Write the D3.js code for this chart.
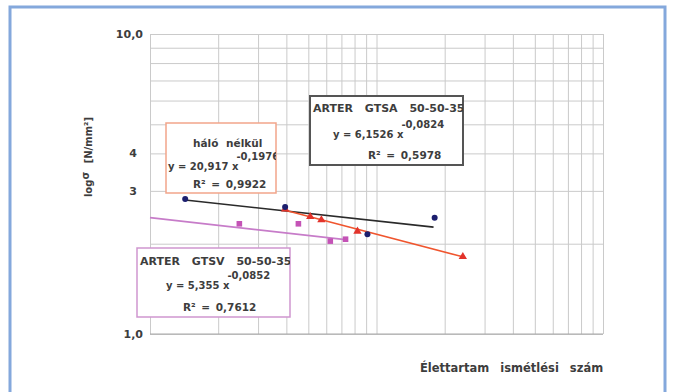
<!DOCTYPE html>
<html>
<head>
<meta charset="utf-8">
<script src="https://cdn.jsdelivr.net/npm/d3@7"></script>
<style>
  body { margin: 0; background: #fff; }
  text { font-family: "DejaVu Sans", sans-serif; fill: #3d3d3d; }
</style>
</head>
<body>
<script>
// series (x = cycles, y = stress)
const gtsaX = [14300, 39500, 91200, 180600];
const gtsaY = [2.82, 2.65, 2.15, 2.44];
const haloX = [39500, 51000, 57100, 82400, 240500];
const haloY = [2.61, 2.46, 2.40, 2.20, 1.81];
const gtsvX = [24800, 45200, 62500, 73000];
const gtsvY = [2.33, 2.33, 2.04, 2.07];

// power trendlines y = a * x^b, as printed in the boxes
const trendNames = ["gtsa", "halo", "gtsv"];
const trendA = [6.1526, 20.917, 5.355];
const trendB = [-0.0824, -0.1976, -0.0852];
const trendFrom = [14300, 39500, 10000];
const trendTo = [178600, 240500, 74500];

const yTickValues = [1, 3, 4, 10];
const yTickLabels = ["1,0", "3", "4", "10,0"];

var width = 673, height = 392;
var plotLeft = 150, plotRight = 603, plotTop = 34, plotBottom = 334;

var svg = d3.select("body").append("svg")
    .attr("width", width)
    .attr("height", height);

// outer blue frame
svg.append("rect")
    .attr("x", 10).attr("y", 7)
    .attr("width", 655).attr("height", 390)
    .attr("fill", "none")
    .attr("stroke", "#84a8dc")
    .attr("stroke-width", 3);

var x = d3.scaleLog().domain([1e4, 1e6]).range([plotLeft, plotRight]);
var y = d3.scaleLog().domain([1, 10]).range([plotBottom, plotTop]);

//grid
svg.append("g")
    .attr("transform", "translate(0," + plotBottom + ")")
    .call(d3.axisBottom(x).tickSize(-(plotBottom - plotTop)).tickFormat(""))
    .call(g => g.select(".domain").remove())
    .call(g => g.selectAll("line").attr("stroke", "#cacaca"));

svg.append("g")
    .attr("transform", "translate(" + plotLeft + ",0)")
    .call(d3.axisLeft(y).tickSize(-(plotRight - plotLeft)).tickFormat(""))
    .call(g => g.select(".domain").remove())
    .call(g => g.selectAll("line").attr("stroke", "#cacaca"));

// bottom axis line a bit darker
svg.append("line")
    .attr("x1", plotLeft).attr("x2", plotRight)
    .attr("y1", plotBottom).attr("y2", plotBottom)
    .attr("stroke", "#a8a8a8");

//y tick labels
svg.append("g")
    .attr("transform", "translate(" + (plotLeft - 4) + ",0)")
    .call(d3.axisLeft(y).tickValues(yTickValues).tickSize(0)
        .tickFormat((d, i) => yTickLabels[i]))
    .call(g => g.select(".domain").remove())
    .call(g => g.selectAll("text")
        .style("font-size", "11px")
        .style("font-weight", "bold")
        .style("font-family", "'DejaVu Sans', sans-serif")
        .attr("fill", "#444")
        .attr("dx", (d) => (d == 3 || d == 4) ? -6 : 0));

// trendlines
var trendColor = {gtsa: "#2a2a2a", halo: "#f0552e", gtsv: "#c77cc9"};
trendNames.forEach(function (name, i) {
    var pts = [trendFrom[i], trendTo[i]].map(v => [v, trendA[i] * Math.pow(v, trendB[i])]);
    svg.append("line")
        .attr("x1", x(pts[0][0])).attr("y1", y(pts[0][1]))
        .attr("x2", x(pts[1][0])).attr("y2", y(pts[1][1]))
        .attr("stroke", trendColor[name])
        .attr("stroke-width", 1.6);
});

// markers
var gtsv = gtsvX.map((v, i) => [v, gtsvY[i]]);
var halo = haloX.map((v, i) => [v, haloY[i]]);
var gtsa = gtsaX.map((v, i) => [v, gtsaY[i]]);

svg.append("g").selectAll("rect")
    .data(gtsv)
    .enter().append("rect")
    .attr("x", d => x(d[0]) - 2.8)
    .attr("y", d => y(d[1]) - 2.8)
    .attr("width", 5.6).attr("height", 5.6)
    .attr("fill", "#c453b6");

svg.append("g").selectAll("path")
    .data(halo)
    .enter().append("path")
    .attr("transform", d => "translate(" + x(d[0]) + "," + y(d[1]) + ")")
    .attr("d", d3.symbol().type(d3.symbolTriangle).size(30))
    .attr("fill", "#e2332b");

svg.append("g").selectAll("circle")
    .data(gtsa)
    .enter().append("circle")
    .attr("cx", d => x(d[0]))
    .attr("cy", d => y(d[1]))
    .attr("r", 3)
    .attr("fill", "#1c1f6e");

// equation boxes
function addBox(id, bx, by, bw, bh, stroke, sw, lines) {
    svg.append("clipPath").attr("id", id)
        .append("rect").attr("x", bx).attr("y", by).attr("width", bw).attr("height", bh);
    svg.append("rect")
        .attr("x", bx).attr("y", by).attr("width", bw).attr("height", bh)
        .attr("fill", "#fff")
        .attr("stroke", stroke)
        .attr("stroke-width", sw);
    var g = svg.append("g").attr("clip-path", "url(#" + id + ")");
    lines.forEach(function (l) {
        var t = g.append("text")
            .attr("x", l.x).attr("y", l.y)
            .style("font-size", (l.size || 10) + "px")
            .style("font-weight", "bold")
            .style("word-spacing", (l.ws || 0) + "px")
            .text(l.text);
        if (l.sup) {
            t.append("tspan")
                .attr("dx", -2).attr("dy", -10)
                .style("font-size", "10px")
                .style("word-spacing", "0px")
                .text(l.sup);
        }
    });
}

addBox("boxHalo", 166, 123, 110, 70, "#f2a58a", 1.5, [
    {x: 193, y: 147, text: "háló nélkül", size: 10.5, ws: 4},
    {x: 168, y: 170, text: "y = 20,917 x", sup: "-0,1976"},
    {x: 193, y: 188, text: "R² = 0,9922", size: 10.5, ws: 2}
]);

addBox("boxGtsa", 310, 96, 153, 69, "#555", 2, [
    {x: 313, y: 112, text: "ARTER GTSA 50-50-35", size: 11, ws: 8},
    {x: 333, y: 138, text: "y = 6,1526 x", sup: "-0,0824"},
    {x: 368, y: 159, text: "R² = 0,5978", size: 10.5, ws: 2}
]);

addBox("boxGtsv", 137, 248, 153, 69, "#cf96cf", 1.5, [
    {x: 140, y: 265, text: "ARTER GTSV 50-50-35", size: 11, ws: 8},
    {x: 166, y: 289, text: "y = 5,355 x", sup: "-0,0852"},
    {x: 183, y: 311, text: "R² = 0,7612", size: 10.5, ws: 2}
]);

// axis titles
svg.append("text")
    .attr("transform", "translate(92,157) rotate(-90)")
    .attr("text-anchor", "middle")
    .style("font-size", "10px")
    .style("font-weight", "bold")
    .style("word-spacing", "5px")
    .text("log")
    .append("tspan").attr("dy", -3).text("σ")
    .append("tspan").attr("dy", 3).text(" [N/mm²]");

svg.append("text")
    .attr("x", 420).attr("y", 372)
    .style("font-size", "11.5px")
    .style("font-weight", "bold")
    .style("word-spacing", "7px")
    .text("Élettartam ismétlési szám");
</script>
</body>
</html>
